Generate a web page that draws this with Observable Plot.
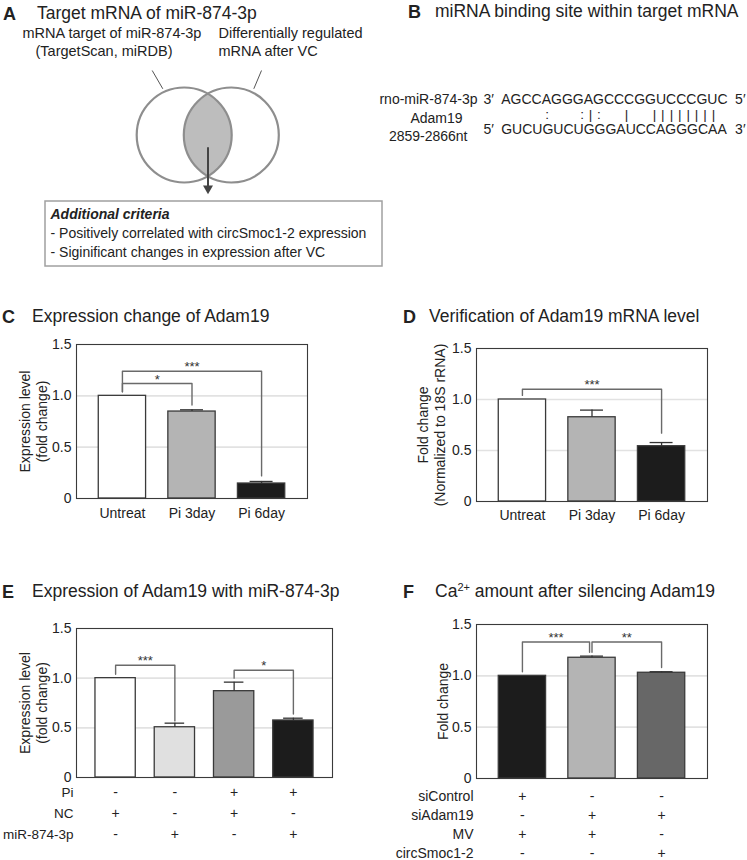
<!DOCTYPE html>
<html><head><meta charset="utf-8">
<script src="https://cdn.jsdelivr.net/npm/d3@7"></script>
<script src="https://cdn.jsdelivr.net/npm/@observablehq/plot@0.6"></script>
<style>
body{margin:0;background:#fff;}
#fig{position:relative;width:747px;height:860px;overflow:hidden;font-family:"Liberation Sans",Arial,Helvetica,sans-serif;color:#222;background:#fff;}
.box{position:absolute;}
.ttl{position:absolute;white-space:nowrap;font-size:17.5px;line-height:1;color:#222;}
.ltr{position:absolute;white-space:nowrap;font-size:18px;line-height:1;font-weight:bold;color:#222;}
sup{font-size:11px;vertical-align:6px;line-height:0;}
</style></head><body><div id="fig"></div>
<script>
// ---------------- data ----------------
const vennSets = [
  {name: "miR-874-3p targets", cx: 183.7, cy: 134.5},
  {name: "VC regulated", cx: 230.8, cy: 134.5}
];
const vennLabels = [
  {text: "mRNA target of miR-874-3p", x: 22, y: 37},
  {text: "(TargetScan, miRDB)", x: 35, y: 55},
  {text: "Differentially regulated", x: 218, y: 37},
  {text: "mRNA after VC", x: 218, y: 55}
];
const vennLeaders = [
  {x1: 151.7, y1: 70, x2: 162.3, y2: 88.3},
  {x1: 261, y1: 70, x2: 253.3, y2: 88.3}
];
const criteriaTitle = "Additional criteria";
const criteriaItems = [
  "- Positively correlated with circSmoc1-2 expression",
  "- Siginificant changes in expression after VC"
];

const mirnaName = "rno-miR-874-3p";
const targetName = "Adam19";
const targetSite = "2859-2866nt";
const mirnaSeq = "AGCCAGGGAGCCCGGUCCCGUC";
const targetSeq = "GUCUGUCUGGGAUCCAGGGCAA";
const pairSymbols = [
  {pos: 4.97, s: ":"}, {pos: 8.37, s: ":"}, {pos: 9.18, s: "|"}, {pos: 9.98, s: ":"},
  {pos: 12.68, s: "|"}, {pos: 15.4, s: "|"}, {pos: 16.21, s: "|"}, {pos: 17.04, s: "|"},
  {pos: 17.86, s: "|"}, {pos: 18.67, s: "|"}, {pos: 19.49, s: "|"}, {pos: 20.31, s: "|"},
  {pos: 21.13, s: "|"}
];

const catsC = ["Untreat", "Pi 3day", "Pi 6day"];
const valuesC = [1.0, 0.847, 0.146];
const errorsC = [0, 0.017, 0.02];
const colorsC = ["#ffffff", "#b4b4b4", "#1c1c1c"];
const bracketsC = [
  {a: 0, b: 1, top: 1.12, ya: 1.04, yb: 0.91, label: "*"},
  {a: 0, b: 2, top: 1.24, ya: 1.04, yb: 0.22, label: "***"}
];

const catsD = ["Untreat", "Pi 3day", "Pi 6day"];
const valuesD = [1.0, 0.826, 0.542];
const errorsD = [0, 0.07, 0.036];
const colorsD = ["#ffffff", "#b4b4b4", "#1c1c1c"];
const bracketsD = [
  {a: 0, b: 2, top: 1.10, ya: 1.04, yb: 0.67, label: "***"}
];

const catsE = ["1", "2", "3", "4"];
const valuesE = [1.0, 0.506, 0.869, 0.574];
const errorsE = [0, 0.041, 0.091, 0.023];
const colorsE = ["#ffffff", "#e0e0e0", "#9a9a9a", "#1c1c1c"];
const bracketsE = [
  {a: 0, b: 1, top: 1.13, ya: 1.04, yb: 0.57, label: "***"},
  {a: 2, b: 3, top: 1.08, ya: 1.00, yb: 0.64, label: "*"}
];
const rowsE = ["Pi", "NC", "miR-874-3p"];
const piE = ["-", "-", "+", "+"];
const ncE = ["+", "-", "+", "-"];
const mirE = ["-", "+", "-", "+"];

const catsF = ["1", "2", "3"];
const valuesF = [1.0, 1.176, 1.03];
const errorsF = [0, 0.016, 0.01];
const colorsF = ["#1c1c1c", "#b4b4b4", "#676767"];
const bracketsF = [
  {a: 0, b: 0.965, top: 1.33, ya: 1.04, yb: 1.23, label: "***"},
  {a: 1, b: 2, top: 1.33, ya: 1.23, yb: 1.08, label: "**"}
];
const rowsF = ["siControl", "siAdam19", "MV", "circSmoc1-2"];
const siControlF = ["+", "-", "-"];
const siAdam19F = ["-", "+", "+"];
const mvF = ["+", "+", "-"];
const circF = ["-", "-", "+"];

const yTicks = [0, 0.5, 1.0, 1.5];

// ---------------- helpers ----------------
const FONT = '"Liberation Sans", Arial, Helvetica, sans-serif';
const fig = document.getElementById("fig");
function place(node, left, top, width, height) {
  const d = document.createElement("div");
  d.className = "box";
  d.style.left = left + "px"; d.style.top = top + "px";
  d.style.width = width + "px"; d.style.height = height + "px";
  d.appendChild(node);
  fig.appendChild(d);
}
function title(letter, lx, tx, baseline, html) {
  const l = document.createElement("div");
  l.className = "ltr"; l.textContent = letter;
  l.style.left = lx + "px"; l.style.top = (baseline - 0.8465 * 18) + "px";
  fig.appendChild(l);
  const t = document.createElement("div");
  t.className = "ttl"; t.innerHTML = html;
  t.style.left = tx + "px"; t.style.top = (baseline - 0.8465 * 17.5) + "px";
  fig.appendChild(t);
}
const baseStyle = {fontFamily: FONT, fontSize: "14px", color: "#222", background: "transparent", overflow: "visible"};

function barChart({cats, values, errors, colors, brackets, ylabel, width, height, ml, mr, mt, mb, showX, labelDx, tickPad}) {
  const n = cats.length;
  const bars = cats.map((c, i) => ({i, cat: c, v: values[i], e: errors[i], c: colors[i]}));
  const errs = bars.filter(d => d.e > 0);
  const bpts = brackets.flatMap((b, k) => [
    {k, x: b.a, y: b.ya}, {k, x: b.a, y: b.top}, {k, x: b.b, y: b.top}, {k, x: b.b, y: b.yb}
  ]);
  return Plot.plot({
    width, height, marginLeft: ml, marginRight: mr, marginTop: mt, marginBottom: mb,
    style: baseStyle,
    x: {domain: [-0.66, n - 1 + 0.66], ticks: d3.range(n), tickFormat: i => cats[i], tickSize: 0,
        tickPadding: tickPad, label: null, axis: showX ? "bottom" : null},
    y: {domain: [0, 1.5], ticks: yTicks, tickFormat: d => d === 0 ? "0" : d.toFixed(1),
        tickSize: 0, tickPadding: 5, label: null},
    marks: [
      Plot.ruleY([0.5, 1.0], {stroke: "#e2e2e2", strokeWidth: 1.6}),
      Plot.rect(bars, {x1: d => d.i - 0.34, x2: d => d.i + 0.34, y1: 0, y2: "v", fill: "c",
        stroke: "#3a3a3a", strokeWidth: 1.3}),
      Plot.ruleX(errs, {x: "i", y1: "v", y2: d => d.v + d.e, stroke: "#333", strokeWidth: 1.3}),
      Plot.ruleY(errs, {y: d => d.v + d.e, x1: d => d.i - 0.165, x2: d => d.i + 0.165, stroke: "#333", strokeWidth: 1.3}),
      Plot.line(bpts, {x: "x", y: "y", z: "k", stroke: "#6a6a6a", strokeWidth: 1.4}),
      Plot.text(brackets, {x: d => (d.a + d.b) / 2, y: "top", text: "label", lineAnchor: "bottom",
        fontSize: 13, fill: "#333"}),
      Plot.text([ylabel], {frameAnchor: "left", textAnchor: "middle", text: d => d, rotate: -90, dx: labelDx,
        lineHeight: 1.2, fontSize: 14, fill: "#222"}),
      Plot.frame({stroke: "#3a3a3a", strokeWidth: 1.1})
    ]
  });
}

function signTable({rows, cols, width, height, ml, mr, range, tickPad, labelSize}) {
  const n = cols[0].length;
  const cells = rows.flatMap((r, k) => cols[k].map((s, i) => ({row: r, i, s})));
  return Plot.plot({
    width, height, marginLeft: ml, marginRight: mr, marginTop: 0, marginBottom: 0,
    style: {...baseStyle, fontSize: labelSize},
    x: {domain: [-0.66, n - 1 + 0.66], axis: null},
    y: {type: "point", domain: rows, range, padding: 0, tickSize: 0, tickPadding: tickPad, label: null},
    marks: [
      Plot.text(cells, {x: "i", y: "row", text: "s", fontSize: 14, fill: "#222"})
    ]
  });
}

// ---------------- panel A ----------------
title("A", 3, 37, 20, "Target mRNA of miR-874-3p");
const WA = 390, HA = 275;
const svgA = Plot.plot({
  width: WA, height: HA, margin: 0,
  style: baseStyle,
  x: {domain: [0, WA], range: [0, WA], axis: null},
  y: {domain: [0, HA], range: [0, HA], axis: null},
  marks: [
    Plot.dot([vennSets[1]], {x: "cx", y: "cy", r: 47.5, fill: "#bdbdbd"}),
    Plot.dot(vennSets, {x: "cx", y: "cy", r: 47.5, fill: "none", stroke: "#8e8e8e", strokeWidth: 2.2}),
    Plot.link(vennLeaders, {x1: "x1", y1: "y1", x2: "x2", y2: "y2", stroke: "#555", strokeWidth: 1}),
    Plot.link([{x: 207.5, y1: 146.7, y2: 186}], {x1: "x", x2: "x", y1: "y1", y2: "y2", stroke: "#444", strokeWidth: 2}),
    Plot.dot([{x: 207.5, y: 188}], {x: "x", y: "y", symbol: "triangle", rotate: 180, r: 3.7, fill: "#444", stroke: "none"}),
    Plot.text(vennLabels, {x: "x", y: "y", text: "text", textAnchor: "start", lineAnchor: "bottom", fontSize: 14.5, fill: "#222"}),
    Plot.rect([{x1: 45, x2: 382, y1: 201, y2: 266}], {x1: "x1", x2: "x2", y1: "y1", y2: "y2", fill: "none", stroke: "#a0a0a0", strokeWidth: 1.5}),
    Plot.text([criteriaTitle], {x: 50, y: 218, text: d => d, textAnchor: "start", lineAnchor: "bottom",
      fontSize: 14, fontWeight: "bold", fontStyle: "italic", fill: "#222"}),
    Plot.text(criteriaItems, {x: 50, y: (d, i) => 237 + i * 19, text: d => d, textAnchor: "start", lineAnchor: "bottom",
      fontSize: 14, fill: "#222"})
  ]
});
// clip the lens (right circle fill) by the left circle
(function () {
  const ns = "http://www.w3.org/2000/svg";
  const groups = svgA.querySelectorAll('g[aria-label="dot"]');
  if (groups.length) {
    const lensG = groups[0];
    const defs = document.createElementNS(ns, "defs");
    const cp = document.createElementNS(ns, "clipPath");
    cp.setAttribute("id", "lensClip");
    const cc = document.createElementNS(ns, "circle");
    cc.setAttribute("cx", vennSets[0].cx); cc.setAttribute("cy", vennSets[0].cy); cc.setAttribute("r", 47.5);
    cp.appendChild(cc); defs.appendChild(cp); svgA.insertBefore(defs, svgA.firstChild);
    lensG.setAttribute("clip-path", "url(#lensClip)");
  }
})();
place(svgA, 0, 0, WA, HA);

// ---------------- panel B ----------------
title("B", 408, 435, 18, "miRNA binding site within target mRNA");
const seqRows = [
  {start: "3′", seq: mirnaSeq, end: "5′", y: 43},
  {start: "5′", seq: targetSeq, end: "3′", y: 73}
];
const nameRows = [
  {text: mirnaName, y: 43},
  {text: targetName, y: 62},
  {text: targetSite, y: 80}
];
const svgB = Plot.plot({
  width: 367, height: 100, margin: 0,
  style: baseStyle,
  x: {domain: [0.5, mirnaSeq.length + 0.5], range: [120.7, 347.1], axis: null},
  y: {domain: [0, 100], range: [0, 100], axis: null},
  marks: [
    Plot.text(seqRows, {x: 0.5, y: "y", text: "seq", textAnchor: "start", lineAnchor: "bottom", fontSize: 14, fill: "#222"}),
    Plot.text(seqRows, {x: 0.5, y: "y", text: "start", textAnchor: "start", lineAnchor: "bottom", dx: -17.7, fontSize: 14, fill: "#222"}),
    Plot.text(seqRows, {x: mirnaSeq.length + 0.5, y: "y", text: "end", textAnchor: "start", lineAnchor: "bottom", dx: 7.5, fontSize: 14, fill: "#222"}),
    Plot.text(pairSymbols, {x: "pos", y: 58, text: "s", textAnchor: "middle", lineAnchor: "bottom", fontSize: 13.5, fill: "#222"}),
    Plot.text([nameRows[0]], {x: 0.5, y: "y", text: "text", textAnchor: "end", lineAnchor: "bottom", dx: -23.7, fontSize: 14, fill: "#222"}),
    Plot.text([nameRows[1]], {x: 0.5, y: "y", text: "text", textAnchor: "middle", lineAnchor: "bottom", dx: -64.7, fontSize: 14, fill: "#222"}),
    Plot.text([nameRows[2]], {x: 0.5, y: "y", text: "text", textAnchor: "middle", lineAnchor: "bottom", dx: -73, fontSize: 14, fill: "#222"})
  ]
});
place(svgB, 380, 60, 367, 100);

// ---------------- panel C ----------------
title("C", 2, 32, 323, "Expression change of Adam19");
place(barChart({cats: catsC, values: valuesC, errors: errorsC, colors: colorsC, brackets: bracketsC,
  ylabel: "Expression level\n(fold change)", width: 380, height: 200, ml: 76, mr: 73, mt: 14, mb: 32,
  showX: true, labelDx: -43, tickPad: 10}), 0, 330, 380, 200);

// ---------------- panel D ----------------
title("D", 403, 429, 323, "Verification of Adam19 mRNA level");
place(barChart({cats: catsD, values: valuesD, errors: errorsD, colors: colorsD, brackets: bracketsD,
  ylabel: "Fold change\n(Normalized to 18S rRNA)", width: 367, height: 200, ml: 96, mr: 40, mt: 18, mb: 29,
  showX: true, labelDx: -45, tickPad: 9}), 380, 330, 367, 200);

// ---------------- panel E ----------------
title("E", 2, 32, 598, "Expression of Adam19 with miR-874-3p");
place(barChart({cats: catsE, values: valuesE, errors: errorsE, colors: colorsE, brackets: bracketsE,
  ylabel: "Expression level\n(fold change)", width: 380, height: 190, ml: 76, mr: 48, mt: 28, mb: 13,
  showX: false, labelDx: -43, tickPad: 10}), 0, 600, 380, 190);
place(signTable({rows: rowsE, cols: [piE, ncE, mirE], width: 380, height: 70, ml: 76, mr: 48,
  range: [11.7, 55], tickPad: 3, labelSize: "13.5px"}), 0, 780, 380, 70);

// ---------------- panel F ----------------
title("F", 403, 435, 598, "Ca<sup>2+</sup> amount after silencing Adam19");
place(barChart({cats: catsF, values: valuesF, errors: errorsF, colors: colorsF, brackets: bracketsF,
  ylabel: "Fold change", width: 367, height: 190, ml: 96, mr: 40, mt: 24, mb: 12,
  showX: false, labelDx: -34, tickPad: 9}), 380, 600, 367, 190);
place(signTable({rows: rowsF, cols: [siControlF, siAdam19F, mvF, circF], width: 367, height: 75, ml: 96, mr: 40,
  range: [11, 68.5], tickPad: 3, labelSize: "14px"}), 380, 785, 367, 75);
</script></body></html>
